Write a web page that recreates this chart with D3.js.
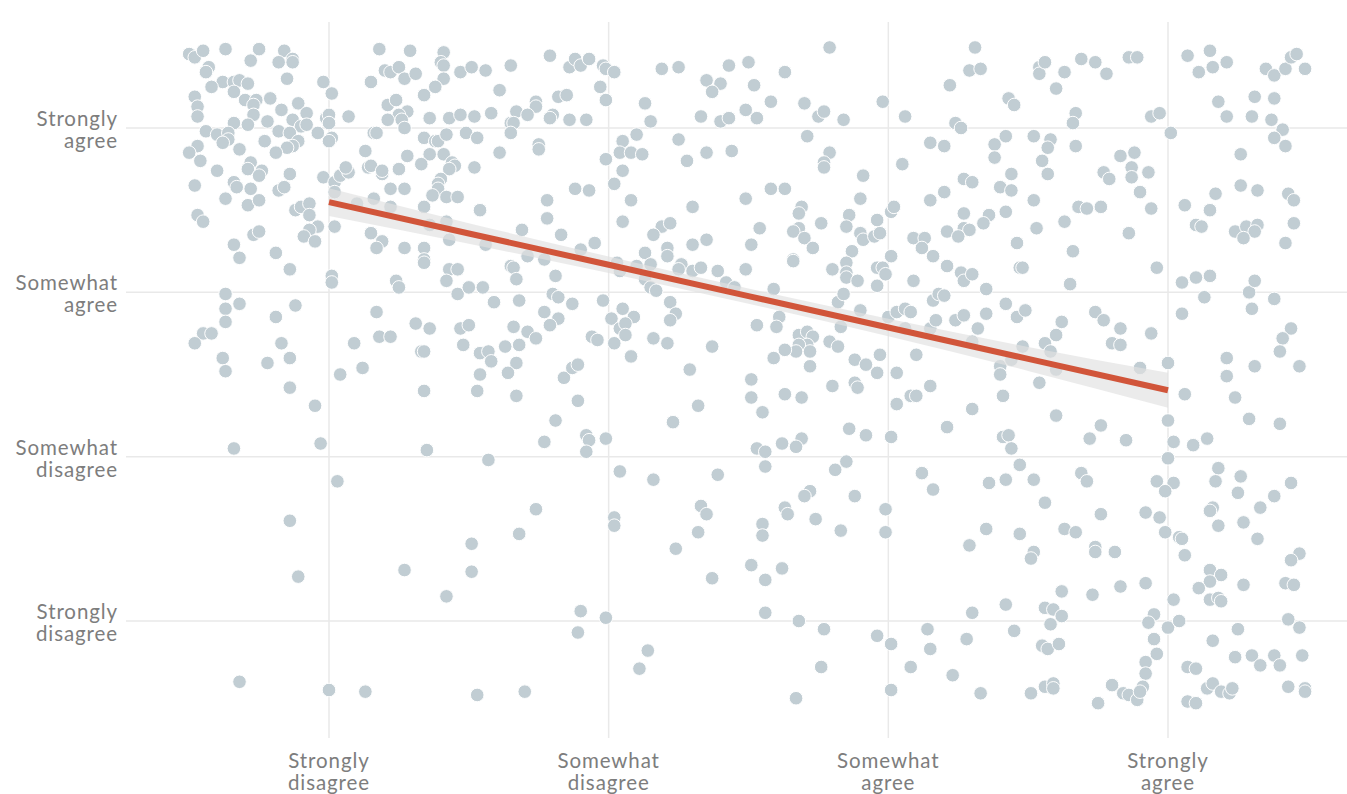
<!DOCTYPE html>
<html><head><meta charset="utf-8">
<script src="https://cdnjs.cloudflare.com/ajax/libs/d3/7.8.5/d3.min.js"></script>
<style>
html,body{margin:0;padding:0;background:#fff;}
svg{display:block;font-family:Lato,"Noto Sans",sans-serif;}
</style></head><body>
<svg id="chart" width="1347" height="794"></svg>
<script>
// Likert categories (1..4)
const categories = ["Strongly disagree","Somewhat disagree","Somewhat agree","Strongly agree"];
const categoryValues = [1,2,3,4];
const xTickLabels = [["Strongly","disagree"],["Somewhat","disagree"],["Somewhat","agree"],["Strongly","agree"]];
const yTickLabels = [["Strongly","disagree"],["Somewhat","disagree"],["Somewhat","agree"],["Strongly","agree"]];

// Jittered responses [x answer, y answer]
const responses = [
[0.50,4.45],[0.52,4.43],[0.55,4.47],[0.63,4.48],[0.75,4.48],[0.84,4.47],[0.87,4.42],[0.87,4.40],[0.72,4.41],[0.82,4.40],[0.57,4.37],[0.56,4.34],[0.85,4.30],[0.62,4.28],[0.58,4.25],[0.66,4.28],[0.68,4.29],[0.71,4.27],[0.66,4.22],[0.98,4.28],[1.01,4.21],[0.52,4.19],[0.53,4.13],[0.53,4.07],[0.70,4.17],[0.74,4.17],[0.73,4.14],[0.79,4.18],[0.89,4.15],[0.83,4.11],[0.92,4.09],[0.73,4.08],[0.66,4.03],[0.71,4.02],[0.78,4.04],[0.87,4.05],[0.90,4.01],[0.92,4.02],[0.99,4.06],[1.00,4.08],[1.00,4.03],[1.07,4.07],[0.56,3.98],[0.60,3.96],[0.64,3.97],[0.64,3.93],[0.62,3.91],[0.77,3.92],[0.82,3.98],[0.86,3.97],[0.89,3.92],[0.87,3.89],[0.85,3.88],[0.96,3.97],[1.01,3.94],[1.00,3.92],[0.53,3.89],[0.50,3.85],[0.54,3.80],[0.68,3.87],[0.81,3.85],[0.72,3.79],[0.71,3.75],[0.76,3.74],[0.75,3.71],[0.60,3.74],[0.86,3.72],[0.52,3.65],[0.66,3.67],[0.67,3.64],[0.72,3.63],[0.82,3.62],[0.84,3.64],[0.98,3.70],[1.02,3.67],[1.04,3.71],[1.07,3.73],[1.06,3.76],[0.63,3.57],[0.71,3.53],[0.75,3.56],[0.88,3.50],[0.90,3.52],[0.93,3.54],[0.93,3.47],[0.53,3.47],[0.55,3.43],[0.96,3.40],[1.02,3.40],[0.93,3.38],[0.91,3.34],[0.95,3.31],[0.73,3.35],[0.75,3.37],[0.66,3.29],[0.68,3.21],[0.81,3.24],[1.02,3.61],
[1.18,4.48],[1.29,4.47],[1.41,4.46],[1.40,4.40],[1.41,4.38],[1.20,4.35],[1.22,4.34],[1.25,4.37],[1.27,4.30],[1.31,4.33],[1.41,4.30],[1.38,4.25],[1.15,4.28],[1.34,4.20],[1.21,4.14],[1.24,4.17],[1.28,4.10],[1.25,4.08],[1.26,4.05],[1.27,4.00],[1.21,4.05],[1.36,4.06],[1.43,4.06],[1.47,4.08],[1.16,3.97],[1.17,3.97],[1.34,3.94],[1.38,3.92],[1.39,3.92],[1.42,3.96],[1.13,3.86],[1.28,3.83],[1.36,3.84],[1.41,3.84],[1.14,3.76],[1.15,3.77],[1.19,3.72],[1.19,3.74],[1.25,3.75],[1.33,3.78],[1.44,3.79],[1.45,3.77],[1.43,3.75],[1.40,3.69],[1.39,3.66],[1.39,3.63],[1.37,3.59],[1.22,3.63],[1.27,3.63],[1.10,3.54],[1.16,3.57],[1.22,3.52],[1.34,3.52],[1.42,3.58],[1.46,3.58],[1.42,3.43],[1.36,3.41],[1.15,3.36],[1.19,3.31],[1.17,3.27],[1.27,3.27],[1.34,3.27],[1.43,3.32],[1.34,3.20],
[1.47,4.34],[1.51,4.37],[1.56,4.35],[1.65,4.38],[1.79,4.44],[1.86,4.37],[1.88,4.42],[1.90,4.38],[1.93,4.42],[1.98,4.38],[1.99,4.36],[2.02,4.34],[2.19,4.36],[2.25,4.37],[2.43,4.38],[1.61,4.23],[1.97,4.25],[1.99,4.17],[1.82,4.19],[1.85,4.20],[1.74,4.16],[1.74,4.13],[1.67,4.10],[1.71,4.08],[1.80,4.08],[1.79,4.06],[1.86,4.05],[1.92,4.05],[1.52,4.07],[1.58,4.09],[1.65,4.03],[1.66,4.03],[1.65,3.97],[1.49,3.97],[1.53,3.94],[2.35,4.29],[2.40,4.27],[2.37,4.22],[2.13,4.15],[2.15,4.04],[2.33,4.07],[2.40,4.04],[2.43,4.06],[1.61,3.85],[1.75,3.90],[1.75,3.87],[1.52,3.76],[2.10,3.96],[2.05,3.92],[2.04,3.85],[2.08,3.85],[2.12,3.84],[1.99,3.81],[2.05,3.74],[2.02,3.66],[2.25,3.93],[2.28,3.80],[2.35,3.85],[2.44,3.86],[1.88,3.63],[1.93,3.62],[1.78,3.56],[1.78,3.45],[1.54,3.50],[1.69,3.38],[1.83,3.35],[1.56,3.29],[1.95,3.30],[1.90,3.26],[1.71,3.22],[1.77,3.20],[2.08,3.56],[2.05,3.43],[2.30,3.52],[2.19,3.40],[2.22,3.42],[2.16,3.35],[2.13,3.24],[2.21,3.27],[2.21,3.22],[2.30,3.29],[2.35,3.32],
[2.50,4.40],[2.63,4.34],[2.52,4.26],[2.79,4.49],[2.58,4.16],[2.70,4.15],[2.49,4.11],[2.53,4.06],[2.75,4.07],[2.77,4.10],[2.84,4.05],[2.98,4.16],[2.71,3.95],[3.06,4.07],[3.31,4.49],[3.29,4.35],[3.33,4.36],[3.22,4.26],[3.43,4.18],[3.45,4.14],[3.24,4.03],[3.26,4.00],[3.15,3.91],[3.20,3.89],[3.38,3.90],[3.42,3.95],[3.38,3.82],[3.05,3.78],[2.79,3.85],[2.77,3.79],[2.77,3.76],[2.91,3.71],[2.58,3.63],[2.63,3.63],[2.49,3.57],[2.90,3.57],[2.69,3.52],[2.68,3.48],[2.86,3.47],[2.76,3.42],[2.85,3.40],[2.96,3.44],[3.01,3.49],[3.02,3.52],[2.68,3.39],[2.66,3.37],[2.70,3.33],[2.73,3.27],[2.54,3.39],[2.51,3.29],[2.90,3.36],[2.91,3.32],[2.95,3.34],[2.97,3.36],[2.87,3.25],[2.66,3.20],[3.01,3.22],[3.27,3.69],[3.30,3.67],[3.20,3.61],[3.15,3.56],[3.44,3.72],[3.40,3.64],[3.44,3.62],[3.42,3.49],[3.27,3.48],[3.36,3.47],[3.34,3.42],[3.21,3.37],[3.27,3.39],[3.29,3.38],[3.25,3.34],[3.09,3.33],[3.13,3.33],[3.12,3.27],[3.16,3.22],[3.46,3.30],
[3.54,4.37],[3.54,4.33],[3.56,4.40],[3.63,4.34],[3.60,4.24],[3.69,4.42],[3.74,4.40],[3.78,4.33],[3.86,4.43],[3.89,4.43],[3.67,4.09],[3.66,4.03],[3.94,4.07],[3.97,4.09],[4.07,4.44],[4.15,4.47],[4.11,4.34],[4.16,4.37],[4.21,4.40],[4.35,4.36],[4.38,4.32],[4.42,4.36],[4.44,4.43],[4.46,4.45],[4.49,4.36],[4.18,4.16],[4.21,4.07],[4.31,4.19],[4.38,4.18],[4.30,4.07],[4.37,4.05],[4.41,3.99],[4.38,3.94],[4.42,3.89],[4.01,3.97],[3.52,3.95],[3.58,3.93],[3.57,3.88],[3.55,3.80],[3.57,3.72],[3.67,3.89],[3.83,3.83],[3.88,3.85],[3.87,3.76],[3.87,3.70],[3.77,3.73],[3.79,3.69],[3.93,3.73],[3.90,3.61],[3.94,3.51],[3.52,3.56],[3.68,3.52],[3.71,3.51],[3.76,3.52],[3.63,3.43],[3.53,3.39],[3.86,3.36],[3.66,3.25],[4.26,3.84],[4.26,3.65],[4.32,3.62],[4.17,3.60],[4.06,3.53],[4.15,3.50],[4.10,3.41],[4.12,3.40],[4.43,3.60],[4.45,3.56],[4.45,3.42],[4.24,3.37],[4.28,3.40],[4.32,3.41],[4.31,3.37],[4.27,3.33],[4.42,3.30],
[0.86,3.14],[1.01,3.10],[1.01,3.06],[1.24,3.07],[1.25,3.03],[1.34,3.18],[1.43,3.14],[1.46,3.14],[1.42,3.07],[1.46,2.99],[0.63,2.99],[0.63,2.90],[0.68,2.93],[0.63,2.82],[0.88,2.92],[0.81,2.85],[0.55,2.75],[0.58,2.75],[0.52,2.69],[0.83,2.69],[0.62,2.60],[0.63,2.52],[0.78,2.57],[0.86,2.60],[0.86,2.42],[0.95,2.31],[0.66,2.05],[0.97,2.08],[1.09,2.69],[1.17,2.88],[1.18,2.73],[1.22,2.73],[1.31,2.81],[1.36,2.78],[1.47,2.78],[1.33,2.64],[1.34,2.64],[1.04,2.50],[1.12,2.54],[1.34,2.40],[1.35,2.04],
[1.50,2.80],[1.48,2.68],[1.50,3.03],[1.55,3.03],[1.65,3.16],[1.66,3.15],[1.67,3.08],[1.81,3.10],[1.59,2.94],[1.68,2.95],[1.80,2.99],[1.82,2.97],[1.87,2.93],[1.98,2.95],[1.77,2.88],[1.82,2.84],[1.79,2.80],[1.66,2.79],[1.71,2.76],[1.74,2.72],[1.54,2.63],[1.57,2.64],[1.58,2.58],[1.63,2.67],[1.68,2.68],[1.67,2.57],[1.64,2.51],[1.54,2.50],[1.53,2.40],[1.67,2.37],[1.84,2.48],[1.87,2.54],[1.89,2.56],[1.94,2.73],[1.96,2.71],[1.89,2.34],[1.81,2.22],[1.77,2.09],[1.92,2.13],[1.93,2.10],[1.92,2.03],[1.99,2.11],[1.57,1.98],[2.02,2.69],[2.05,2.90],[2.09,2.85],[2.01,2.84],[2.04,2.78],[2.06,2.81],[2.06,2.74],[2.08,2.61],[2.16,2.72],[2.21,2.69],[2.22,2.94],[2.24,2.87],[2.22,2.83],[2.37,2.67],[2.29,2.53],[2.32,2.31],[2.23,2.21],[2.04,1.91],[2.39,1.89],[2.03,3.18],[2.04,3.13],[2.10,3.16],[2.15,3.17],[2.26,3.17],[2.25,3.14],[2.30,3.13],[2.33,3.15],[2.39,3.13],[2.42,3.06],[2.45,3.03],[2.13,3.08],[2.15,3.03],[2.17,3.01],
[2.66,3.19],[2.85,3.18],[2.49,3.14],[2.80,3.14],[2.85,3.12],[2.85,3.09],[2.89,3.07],[2.96,3.15],[2.98,3.15],[2.99,3.11],[2.96,3.04],[3.09,3.07],[3.21,3.16],[3.26,3.12],[3.27,3.07],[3.30,3.11],[3.35,3.02],[2.59,3.02],[2.61,2.85],[2.53,2.80],[2.60,2.79],[2.68,2.74],[2.71,2.76],[2.73,2.73],[2.71,2.68],[2.68,2.68],[2.67,2.64],[2.72,2.64],[2.63,2.65],[2.59,2.60],[2.72,2.55],[2.79,2.70],[2.82,2.67],[2.83,2.79],[2.82,2.94],[2.84,2.99],[2.90,2.89],[2.88,2.59],[2.92,2.56],[2.97,2.62],[2.96,2.51],[3.03,2.51],[3.00,2.85],[3.03,2.88],[3.06,2.90],[3.08,2.88],[3.06,2.78],[3.10,2.62],[3.15,2.78],[3.17,2.83],[3.16,2.95],[3.18,2.99],[3.20,2.98],[3.24,2.83],[3.27,2.86],[3.32,2.78],[3.35,2.87],[3.30,2.70],[3.42,2.93],[3.46,2.85],[3.40,2.55],[3.40,2.50],[3.44,2.59],[2.51,2.47],[2.51,2.36],[2.55,2.27],[2.63,2.38],[2.69,2.36],[2.80,2.43],[2.88,2.45],[2.89,2.42],[3.08,2.37],[3.10,2.37],[3.03,2.32],[3.15,2.43],[3.30,2.29],[3.41,2.37],[3.21,2.18],[2.86,2.17],[2.92,2.13],[3.01,2.12],[2.62,2.08],[2.69,2.11],[2.67,2.06],[2.53,2.05],[2.56,2.03],[2.56,1.94],[2.81,1.92],[2.85,1.97],[3.12,1.90],[3.41,2.12],[3.43,2.13],[3.44,2.05],
[3.47,3.15],[3.48,3.15],[3.65,3.05],[3.96,3.15],[4.05,3.06],[4.10,3.09],[4.15,3.10],[4.13,2.97],[4.05,2.87],[4.29,3.00],[4.31,3.07],[4.30,2.90],[4.38,2.96],[3.49,2.89],[3.62,2.82],[3.60,2.74],[3.74,2.88],[3.77,2.83],[3.83,2.78],[3.94,2.75],[3.80,2.69],[3.83,2.68],[3.56,2.69],[3.58,2.64],[3.48,2.67],[3.60,2.53],[3.54,2.45],[3.90,2.54],[4.00,2.57],[4.06,2.38],[4.21,2.60],[4.21,2.49],[4.24,2.36],[4.31,2.55],[4.44,2.78],[4.41,2.72],[4.40,2.64],[4.47,2.55],[3.60,2.25],[3.76,2.19],[3.72,2.11],[3.85,2.10],[4.00,2.22],[4.02,2.09],[4.09,2.07],[4.14,2.11],[4.29,2.23],[4.40,2.20],[4.00,1.99],[4.18,1.93],[3.47,1.95],[3.52,1.86],[3.69,1.90],[4.26,1.88],
[1.03,1.85],[0.86,1.61],[0.89,1.27],[1.27,1.31],[1.42,1.15],[0.68,0.63],[1.00,0.58],[1.13,0.57],
[2.16,1.86],[1.74,1.68],[1.68,1.53],[1.51,1.47],[1.51,1.30],[2.02,1.63],[2.02,1.58],[2.33,1.70],[2.35,1.65],[2.32,1.54],[2.24,1.44],[2.37,1.26],[1.90,1.06],[1.99,1.02],[1.89,0.93],[2.14,0.82],[2.11,0.71],[1.53,0.55],[1.70,0.57],
[3.36,1.84],[3.42,1.86],[2.72,1.79],[2.70,1.76],[2.88,1.76],[2.63,1.69],[2.64,1.65],[2.74,1.62],[2.55,1.59],[2.55,1.52],[2.83,1.55],[2.99,1.68],[2.99,1.54],[3.16,1.80],[3.35,1.56],[3.29,1.46],[2.51,1.34],[2.62,1.32],[2.56,1.25],[2.56,1.05],[2.68,1.00],[2.77,0.95],[2.96,0.91],[3.01,0.86],[3.14,0.95],[3.15,0.83],[3.28,0.89],[3.30,1.05],[3.42,1.10],[3.45,0.94],[2.76,0.72],[3.08,0.72],[3.23,0.67],[2.67,0.53],[3.01,0.58],[3.33,0.56],
[3.71,1.85],[3.96,1.85],[4.02,1.84],[3.99,1.79],[4.17,1.85],[4.25,1.78],[4.44,1.84],[3.56,1.72],[3.76,1.65],[3.92,1.66],[3.97,1.63],[3.63,1.56],[3.67,1.54],[3.99,1.54],[3.47,1.53],[3.52,1.42],[3.51,1.38],[3.74,1.45],[3.74,1.42],[3.81,1.42],[4.04,1.51],[4.05,1.50],[4.06,1.40],[4.16,1.69],[4.15,1.67],[4.18,1.58],[4.27,1.60],[4.33,1.69],[4.38,1.76],[4.32,1.50],[4.47,1.41],[4.44,1.37],[4.15,1.31],[4.19,1.28],[4.15,1.24],[4.11,1.20],[4.15,1.13],[4.18,1.14],[4.19,1.12],[4.27,1.22],[4.42,1.23],[4.45,1.22],[3.62,1.18],[3.73,1.16],[3.83,1.21],[3.92,1.23],[4.02,1.13],[3.56,1.08],[3.59,1.07],[3.62,1.03],[3.58,0.98],[3.95,1.04],[3.93,0.99],[4.00,0.96],[4.04,1.00],[4.43,1.01],[4.47,0.96],[4.25,0.95],[4.16,0.88],[3.55,0.85],[3.57,0.83],[3.61,0.86],[3.95,0.89],[3.96,0.80],[3.92,0.75],[3.92,0.68],[4.24,0.78],[4.30,0.79],[4.33,0.73],[4.38,0.79],[4.40,0.73],[4.48,0.79],[4.07,0.72],[4.10,0.71],[3.80,0.61],[3.84,0.56],[3.86,0.55],[3.89,0.52],[3.91,0.60],[3.90,0.57],[3.56,0.60],[3.59,0.62],[3.59,0.59],[3.51,0.56],[3.75,0.50],[4.14,0.59],[4.16,0.62],[4.19,0.57],[4.22,0.56],[4.23,0.59],[4.07,0.51],[4.10,0.50],[4.43,0.60],[4.49,0.59],[4.49,0.57]
];

// Linear fit and its confidence band
const fitX  = [1, 1.5, 2, 2.5, 3, 3.5, 4];
const fitY  = [3.549, 3.358, 3.168, 2.977, 2.786, 2.595, 2.404];
const fitLo = [3.465, 3.295, 3.118, 2.931, 2.733, 2.522, 2.298];
const fitHi = [3.633, 3.421, 3.218, 3.023, 2.839, 2.668, 2.510];

const svg = d3.select("#chart");
const W = 1347, H = 794;
svg.append("rect").attr("width", W).attr("height", H).attr("fill", "#fff");

const x = d3.scaleLinear().domain([1, 4]).range([329, 1168]);
const y = d3.scaleLinear().domain([1, 4]).range([621, 128]);

const grid = svg.append("g");
grid.selectAll("line.h").data(categoryValues).join("line")
  .attr("x1", 126).attr("x2", W)
  .attr("y1", d => y(d)).attr("y2", d => y(d))
  .attr("stroke", "#e9e9e9").attr("stroke-width", 1.5);
grid.selectAll("line.v").data(categoryValues).join("line")
  .attr("x1", d => x(d)).attr("x2", d => x(d))
  .attr("y1", 22).attr("y2", 738)
  .attr("stroke", "#e9e9e9").attr("stroke-width", 1.5);

// points
svg.append("g").selectAll("circle").data(responses).join("circle")
  .attr("cx", d => x(d[0])).attr("cy", d => y(d[1]))
  .attr("r", 6.8)
  .attr("fill", "#c1cdd3")
  .attr("stroke", "#fff").attr("stroke-width", 1);

// confidence band
const band = fitX.map((v, i) => ({x: v, lo: fitLo[i], hi: fitHi[i], y: fitY[i]}));
svg.append("path").datum(band)
  .attr("d", d3.area().x(d => x(d.x)).y0(d => y(d.lo)).y1(d => y(d.hi)).curve(d3.curveMonotoneX))
  .attr("fill", "rgb(224,224,224)").attr("fill-opacity", 0.66);

svg.append("path").datum(band)
  .attr("d", d3.line().x(d => x(d.x)).y(d => y(d.y)))
  .attr("fill", "none").attr("stroke", "#d1553a").attr("stroke-width", 6);

// axis labels
const textColor = "#7d7d7d";
const fs = 20.5, ls = 0.9;
const yl = svg.append("g");
yTickLabels.forEach((lines, i) => {
  const t = yl.append("text").attr("x", 118).attr("text-anchor", "end")
    .attr("fill", textColor).attr("font-size", fs).attr("letter-spacing", ls);
  lines.forEach((s, j) => {
    t.append("tspan").attr("x", 118).attr("y", y(categoryValues[i]) - 2 + j * 22).text(s);
  });
});
const xl = svg.append("g");
xTickLabels.forEach((lines, i) => {
  const t = xl.append("text").attr("text-anchor", "middle")
    .attr("fill", textColor).attr("font-size", fs).attr("letter-spacing", ls);
  lines.forEach((s, j) => {
    t.append("tspan").attr("x", x(categoryValues[i])).attr("y", 768 + j * 22).text(s);
  });
});
</script>
</body></html>
